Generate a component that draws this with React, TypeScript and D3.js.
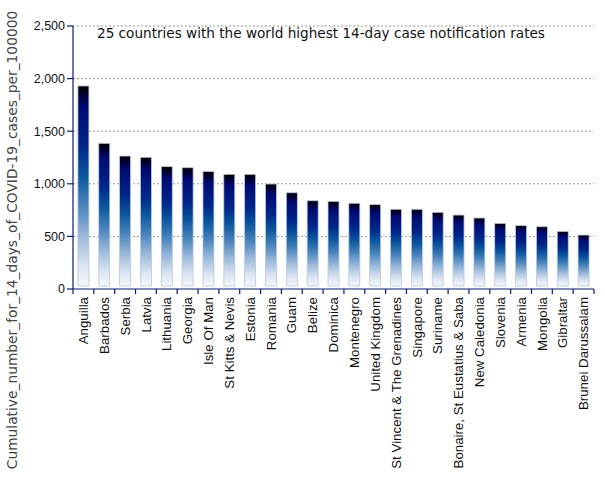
import React from "react";
import * as d3 from "d3";

const countries = [
  "Anguilla", "Barbados", "Serbia", "Latvia", "Lithuania", "Georgia", "Isle Of Man",
  "St Kitts & Nevis", "Estonia", "Romania", "Guam", "Belize", "Dominica", "Montenegro",
  "United Kingdom", "St Vincent & The Grenadines", "Singapore", "Suriname",
  "Bonaire, St Eustatius & Saba", "New Caledonia", "Slovenia", "Armenia", "Mongolia",
  "Gibraltar", "Brunei Darussalam",
];
const values = [
  1930, 1385, 1264, 1252, 1163, 1153, 1117, 1090, 1090, 998, 915, 839, 833, 815, 802,
  758, 758, 729, 703, 675, 624, 602, 592, 548, 513,
];
const yTicks = [0, 500, 1000, 1500, 2000, 2500];
const title = "25 countries with the world highest 14-day case notification rates";
const yTitle = "Cumulative_number_for_14_days_of_COVID-19_cases_per_100000";

export default function App() {
  const W = 605, H = 480;
  const left = 73, right = 594, top = 26, bottom = 289;
  const x = d3.scaleBand<string>().domain(countries).range([left, right]).paddingInner(0).paddingOuter(0);
  const y = d3.scaleLinear().domain([0, 2500]).range([bottom, top]);
  const bw = 11;
  const fmt = d3.format(",");
  const axisColor = "#0a1a6e";
  const stops: [number, string][] = [
    [0, "#000000"], [0.04, "#000030"], [0.1, "#000a70"], [0.3, "#00268a"],
    [0.45, "#0c589e"], [0.6, "#4a84bc"], [0.75, "#9ab8da"], [0.9, "#dbe5f2"], [1, "#f5f7fb"],
  ];
  return (
    <div style={{ position: "absolute", left: 0, top: 0 }}>
      <svg width={W} height={H} style={{ display: "block", background: "#fff" }}>
        <defs>
          <linearGradient id="barGrad" x1="0" y1="0" x2="0" y2="1">
            {stops.map(([o, c], i) => (
              <stop key={i} offset={o} stopColor={c} />
            ))}
          </linearGradient>
        </defs>
        {yTicks.filter((t) => t > 0).map((t) => (
          <line key={t} x1={left} x2={right} y1={y(t)} y2={y(t)} stroke="#999" strokeDasharray="2,2" strokeWidth={1} />
        ))}
        {countries.map((c, i) => {
          const cx = (x(c) as number) + x.bandwidth() / 2;
          const yt = y(values[i]);
          return (
            <rect key={c} x={cx - bw / 2} y={yt} width={bw} height={bottom - 3 - yt}
              fill="url(#barGrad)" stroke="#b8c8e0" strokeWidth={0.8} />
          );
        })}
        {/* y axis */}
        <line x1={left} x2={left} y1={top} y2={bottom} stroke={axisColor} strokeWidth={1.2} />
        {yTicks.map((t) => (
          <g key={t}>
            <line x1={left - 6} x2={left} y1={y(t)} y2={y(t)} stroke={axisColor} strokeWidth={1.2} />
            <text x={left - 8} y={y(t)} dy="0.35em" textAnchor="end" fontFamily="Liberation Sans, Arial, sans-serif" fontSize={12.5} fill="#111">
              {fmt(t)}
            </text>
          </g>
        ))}
        {/* x axis */}
        <line x1={left} x2={right} y1={bottom} y2={bottom} stroke={axisColor} strokeWidth={1.2} />
        {countries.map((c) => (
          <line key={c} x1={(x(c) as number) + x.bandwidth()} x2={(x(c) as number) + x.bandwidth()} y1={bottom} y2={bottom + 5} stroke={axisColor} strokeWidth={1.2} />
        ))}
        <line x1={left} x2={left} y1={bottom} y2={bottom + 5} stroke={axisColor} strokeWidth={1.2} />
        {countries.map((c) => {
          const cx = (x(c) as number) + x.bandwidth() / 2;
          return (
            <text key={c} transform={`translate(${cx},${bottom + 8}) rotate(-90)`} dy="0.35em" textAnchor="end"
              fontFamily="Liberation Sans, Arial, sans-serif" fontSize={13.3} fill="#111">
              {c}
            </text>
          );
        })}
        <text x={97} y={38} fontFamily="DejaVu Sans, sans-serif" fontSize={13.6} fill="#111">{title}</text>
        <text transform={`translate(17,${240}) rotate(-90)`} textAnchor="middle" fontFamily="DejaVu Sans, sans-serif" fontSize={13.8} fill="#444">
          {yTitle}
        </text>
      </svg>
    </div>
  );
}
